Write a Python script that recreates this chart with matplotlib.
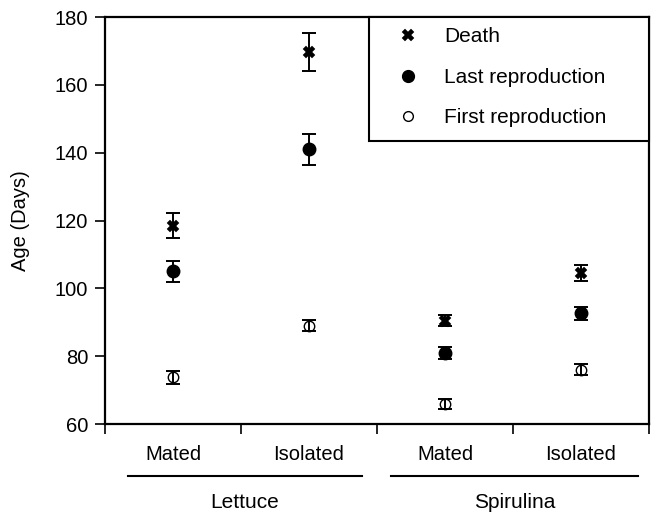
import matplotlib
matplotlib.use("Agg")
import matplotlib.pyplot as plt
from matplotlib.lines import Line2D
from matplotlib.patches import Rectangle
import numpy as np

plt.rcParams['font.family'] = ['Liberation Sans', 'DejaVu Sans']

groups = ["Lettuce", "Spirulina"]
treatments = ["Mated", "Isolated", "Mated", "Isolated"]
death = [118.5, 169.7, 90.5, 104.5]
death_err = [3.6, 5.5, 1.6, 2.3]
last_rep = [105.0, 141.0, 81.0, 92.7]
last_err = [3.0, 4.6, 1.7, 1.9]
first_rep = [73.8, 89.0, 65.8, 76.0]
first_err = [1.9, 1.7, 1.5, 1.7]

W, H = 651, 516
fig = plt.figure(figsize=(W/100, H/100), dpi=100)
ax = fig.add_axes([105/W, 1-424/H, 544/W, 407/H])

x = np.arange(len(treatments)) + 0.5
ekw = dict(fmt='none', ecolor='black', elinewidth=1.4, capsize=5.3, capthick=1.4, zorder=4)
ax.plot(x, death, 'X', color='black', ms=9, mew=0.3, zorder=3)
ax.errorbar(x, death, yerr=death_err, **ekw)
ax.plot(x, last_rep, 'o', color='black', ms=9, zorder=3)
ax.errorbar(x, last_rep, yerr=last_err, **ekw)
ax.plot(x, first_rep, 'o', mfc='white', mec='black', mew=1.0, ms=7.5, zorder=3)
ax.errorbar(x, first_rep, yerr=first_err, **ekw)

ax.set_xlim(0, 4)
ax.set_ylim(60, 180)
ax.set_yticks(np.arange(60, 181, 20))
ax.tick_params(axis='y', labelsize=14.5, width=1.2, length=7, pad=5, direction='out')
ax.set_xticks(np.arange(0, 5))
ax.set_xticklabels([])
ax.tick_params(axis='x', which='major', length=7, width=1.2, direction='out')
ax.set_xticks(x, minor=True)
ax.set_xticklabels(treatments, minor=True, fontsize=14.5)
ax.tick_params(axis='x', which='minor', length=0, pad=15)
for s in ax.spines.values():
    s.set_linewidth(1.6)
ax.set_ylabel("Age (Days)", fontsize=14.5)
ax.yaxis.set_label_coords((30-105)/544, 0.5)

handles = [
    Line2D([], [], marker='X', color='black', ls='none', ms=8, mew=0.3),
    Line2D([], [], marker='o', color='black', ls='none', ms=8.5),
    Line2D([], [], marker='o', mfc='white', mec='black', ls='none', ms=7, mew=1.0),
]
leg = fig.legend(handles, ["Death", "Last reproduction", "First reproduction"],
                 loc='upper left', bbox_to_anchor=(369/W, 1-17/H), bbox_transform=fig.transFigure,
                 fontsize=15, frameon=False, borderaxespad=0, labelspacing=1.03,
                 handletextpad=0.35, borderpad=0.5, handlelength=2.75)
fig.add_artist(Rectangle((369/W, 1-141/H), (649-369)/W, (141-17)/H, transform=fig.transFigure,
                         fill=True, facecolor='white', edgecolor='black', lw=1.5, zorder=4))
leg.set_zorder(5)

# group lines and labels
for (x0, x1), name in zip([(128, 362), (391, 638)], groups):
    fig.add_artist(Line2D([x0/W, x1/W], [1-476/H, 1-476/H], color='black', lw=1.5))
    fig.text((x0+x1)/2/W, 1-502/H, name, ha='center', va='center', fontsize=15)

fig.savefig("out.png", dpi=100)
